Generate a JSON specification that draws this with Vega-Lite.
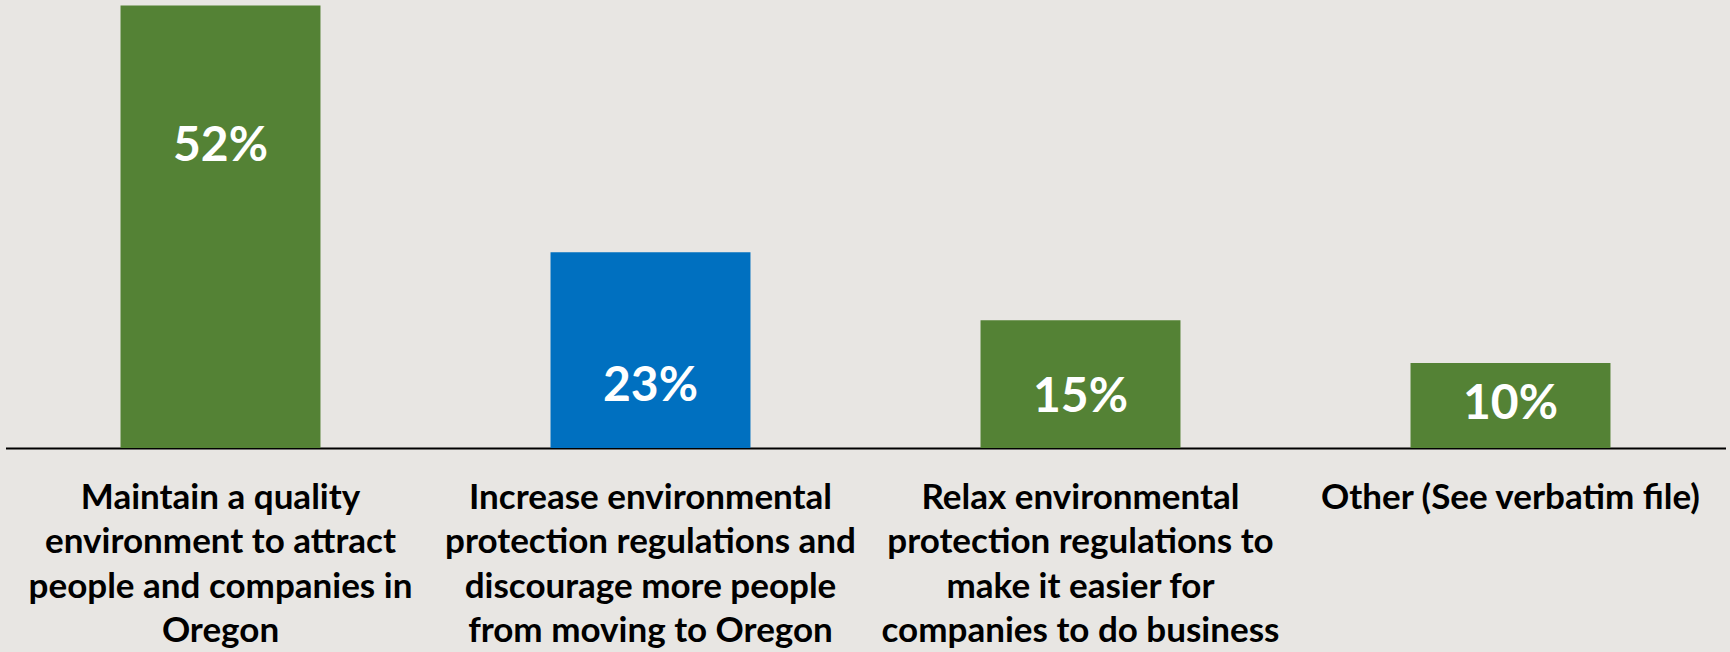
{
  "$schema": "https://vega.github.io/schema/vega-lite/v6.json",
  "autosize": "none",
  "width": 1720,
  "height": 442.6,
  "padding": {"left": 5.5, "top": 5.4, "right": 4.5, "bottom": 204},
  "background": "#E8E6E3",
  "config": {"view": {"stroke": null}, "font": "Lato"},
  "data": {
    "values": [
      {"label": "Maintain a quality|environment to attract|people and companies in|Oregon", "value": 52, "pct": "52%", "highlight": "no"},
      {"label": "Increase environmental|protection regulations and|discourage more people|from moving to Oregon", "value": 23, "pct": "23%", "highlight": "yes"},
      {"label": "Relax environmental|protection regulations to|make it easier for|companies to do business", "value": 15, "pct": "15%", "highlight": "no"},
      {"label": "Other (See verbatim file)", "value": 10, "pct": "10%", "highlight": "no"}
    ]
  },
  "resolve": {"scale": {"y": "independent"}},
  "encoding": {
    "x": {
      "field": "label",
      "type": "nominal",
      "sort": null,
      "scale": {"paddingInner": 0.535, "paddingOuter": 0.2675},
      "axis": {
        "title": null,
        "labelAngle": 0,
        "labelExpr": "split(datum.label, '|')",
        "labelFont": "Lato",
        "labelFontWeight": "bold",
        "labelFontSize": 35,
        "labelLineHeight": 44.5,
        "labelColor": "#000000",
        "labelBaseline": "alphabetic",
        "labelPadding": 60,
        "labelLimit": 0,
        "labelOverlap": false,
        "ticks": false,
        "tickSize": 0,
        "domainColor": "#000000",
        "domainWidth": 2
      }
    }
  },
  "layer": [
    {
      "mark": {"type": "bar"},
      "encoding": {
        "y": {"field": "value", "type": "quantitative", "scale": {"domain": [0, 52], "nice": false, "zero": true}, "axis": null},
        "color": {"field": "highlight", "type": "nominal", "scale": {"domain": ["no", "yes"], "range": ["#548235", "#0070C0"]}, "legend": null}
      }
    },
    {
      "transform": [{"filter": "datum.value > 30"}],
      "mark": {"type": "text", "color": "#FFFFFF", "fontWeight": "bold", "fontSize": 48, "font": "Lato", "baseline": "middle", "dy": 142},
      "encoding": {
        "y": {"field": "value", "type": "quantitative", "scale": {"domain": [0, 52], "nice": false, "zero": true}, "axis": null},
        "text": {"field": "pct", "type": "nominal"}
      }
    },
    {
      "transform": [{"filter": "datum.value <= 30"}],
      "mark": {"type": "text", "color": "#FFFFFF", "fontWeight": "bold", "fontSize": 48, "font": "Lato", "baseline": "middle"},
      "encoding": {
        "y": {"field": "value", "type": "quantitative", "scale": {"domain": [-19.8, 289.5], "nice": false, "zero": false}, "axis": null},
        "text": {"field": "pct", "type": "nominal"}
      }
    }
  ]
}
